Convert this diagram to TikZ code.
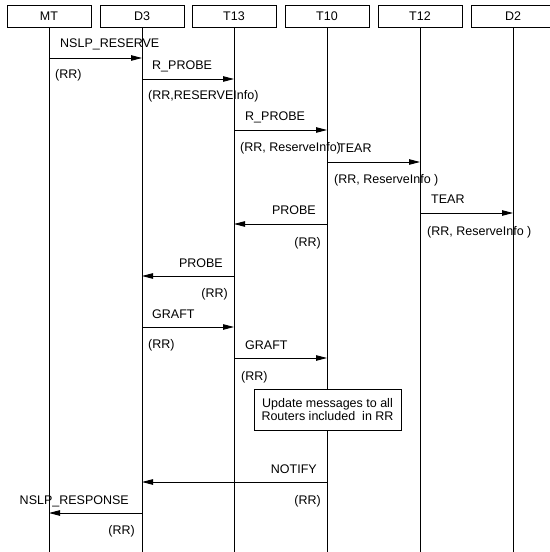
\documentclass[tikz,border=0pt]{standalone}
\usepackage{fontspec}
\setmainfont{Liberation Sans}
\usetikzlibrary{arrows.meta}
\begin{document}
\begin{tikzpicture}[x=1bp,y=-1bp,
  font=\fontsize{12.5bp}{13bp}\selectfont,
  head/.style={draw,line width=0.8bp,minimum width=84bp,minimum height=22bp,inner sep=0pt,anchor=center,fill=white},
  life/.style={line width=0.9bp},
  msg/.style={line width=0.9bp,-{Triangle[length=11bp,width=5.5bp]}},
  lbl/.style={inner sep=0pt,anchor=base west},
  lblr/.style={inner sep=0pt,anchor=base east},
  note/.style={draw,line width=0.8bp,fill=white,align=center,minimum width=147bp,minimum height=41bp,inner sep=0pt}]
\useasboundingbox (0,0) rectangle (550,552);
% headers
\node[head] (MT)  at (49,16)  {MT};
\node[head] (D3)  at (142,16) {D3};
\node[head] (T13) at (234,16) {T13};
\node[head] (T10) at (327,16) {T10};
\node[head] (T12) at (420,16) {T12};
\node[head] (D2)  at (513,16) {D2};
% lifeline ends
\coordinate (MTe)  at (49,552);
\coordinate (D3e)  at (142,552);
\coordinate (T13e) at (234,552);
\coordinate (T10e) at (327,552);
\coordinate (T12e) at (420,552);
\coordinate (D2e)  at (513,552);
\draw[life] (MT.south) -- (MTe);
\draw[life] (D3.south) -- (D3e);
\draw[life] (T13.south) -- (T13e);
\draw[life] (T10.south) -- (T10e);
\draw[life] (T12.south) -- (T12e);
\draw[life] (D2.south) -- (D2e);
% message end points
\coordinate (a1) at (49,58);   \coordinate (b1) at (142,58);
\coordinate (a2) at (142,79);  \coordinate (b2) at (234,79);
\coordinate (a3) at (234,130); \coordinate (b3) at (327,130);
\coordinate (a4) at (327,162); \coordinate (b4) at (420,162);
\coordinate (a5) at (420,213); \coordinate (b5) at (513,213);
\coordinate (a6) at (327,224); \coordinate (b6) at (234,224);
\coordinate (a7) at (234,276); \coordinate (b7) at (142,276);
\coordinate (a8) at (142,327); \coordinate (b8) at (234,327);
\coordinate (a9) at (234,358); \coordinate (b9) at (327,358);
\coordinate (a11) at (327,482); \coordinate (b11) at (142,482);
\coordinate (a12) at (142,513); \coordinate (b12) at (49,513);
\draw[msg] (a1) -- (b1);
\draw[msg] (a2) -- (b2);
\draw[msg] (a3) -- (b3);
\draw[msg] (a4) -- (b4);
\draw[msg] (a5) -- (b5);
\draw[msg] (a6) -- (b6);
\draw[msg] (a7) -- (b7);
\draw[msg] (a8) -- (b8);
\draw[msg] (a9) -- (b9);
\draw[msg] (a11) -- (b11);
\draw[msg] (a12) -- (b12);
% labels
\node[lbl] (l1)  at (60,48)   {NSLP\_RESERVE};
\node[lbl] (r1)  at (55,79)   {(RR)};
\node[lbl] (l2)  at (152,70)  {R\_PROBE};
\node[lbl] (r2)  at (148,100) {(RR,RESERVEInfo)};
\node[lbl] (l3)  at (245,121) {R\_PROBE};
\node[lbl] (r3)  at (240,152) {(RR, ReserveInfo)};
\node[lbl] (l4)  at (338,153) {TEAR};
\node[lbl] (r4)  at (334,184) {(RR, ReserveInfo )};
\node[lbl] (l5)  at (431,204) {TEAR};
\node[lbl] (r5)  at (427,235) {(RR, ReserveInfo )};
\node[lblr] (l6) at (316,215) {PROBE};
\node[lblr] (r6) at (321,246) {(RR)};
\node[lblr] (l7) at (223,267) {PROBE};
\node[lblr] (r7) at (228,297) {(RR)};
\node[lbl] (l8)  at (152,318) {GRAFT};
\node[lbl] (r8)  at (148,348) {(RR)};
\node[lbl] (l9)  at (245,349) {GRAFT};
\node[lbl] (r9)  at (241,380) {(RR)};
\node[note] (box) at (327.5,409.5) {Update messages to all\\Routers included\ \ in RR};
\node[lblr] (l11) at (317,473) {NOTIFY};
\node[lblr] (r11) at (321,504) {(RR)};
\node[lblr] (l12) at (129,504) {NSLP\_RESPONSE};
\node[lblr] (r12) at (135,534) {(RR)};
\end{tikzpicture}
\end{document}
